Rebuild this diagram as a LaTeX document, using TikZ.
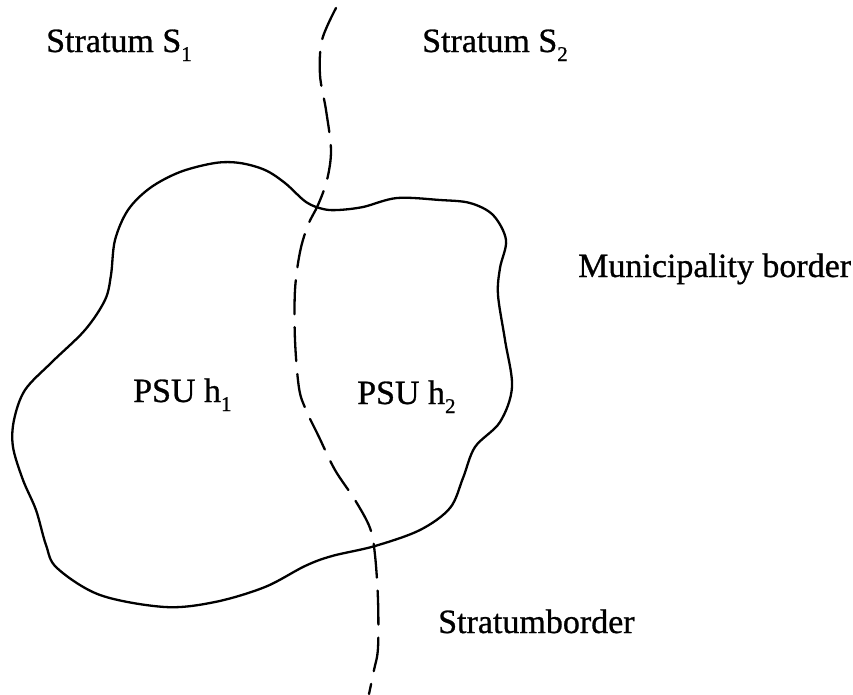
\documentclass[tikz,border=0pt]{standalone}
\usepackage{fontspec}
\setmainfont[FakeBold=0.8]{Liberation Serif}
\newcommand\mysub[1]{\raisebox{-9pt}{\fontsize{21}{21}\selectfont #1}}
\tikzset{
  lbl/.style={anchor=base west, inner sep=0pt, font=\fontsize{34}{34}\selectfont},
  border/.style={line width=2.3pt, line join=round, line cap=round},
  strat/.style={line width=2.3pt, line cap=round, dash pattern=on 34pt off 13pt}
}
\begin{document}
\begin{tikzpicture}[x=1pt,y=-1pt]
\useasboundingbox (0,0) rectangle (853,694);
% municipality border (closed outline)
\draw[border] plot[smooth cycle, tension=0.55] coordinates {
(323,209) (306,202) (285,183) (265,170) (240,163) (215,163) (180,172)
(150,188) (128,210) (115,240) (111,275) (105,300) (85,330) (52,362)
(25,390) (14,420) (13,447) (23,480) (36,510) (46,545) (57,568)
(100,595) (165,607) (215,602) (265,587) (305,566) (332,556) (375,546)
(420,530) (450,508) (463,478) (475,447) (500,422) (512,387) (505,340)
(498,295) (500,268) (506,240) (493,215) (470,203) (440,200) (397,198)
(363,207) (338,210)};
% stratum border (dashed)
\draw[strat] plot[smooth, tension=0.55] coordinates {
(336,8) (322,40) (320,75) (326,110) (331,150) (327,180) (318,205)
(308,225) (300,252) (295,290) (295,340) (299,388) (306,410) (319,437)
(335,470) (355,500) (370,528) (375,555) (378,600) (378,648) (374,670) (369,694)};
% labels
\node[lbl] (s1) at (46,52) {Stratum S\mysub{1}};
\node[lbl] (s2) at (422,52) {Stratum S\mysub{2}};
\node[lbl] (mun) at (578,277) {Municipality border};
\node[lbl] (h1) at (133,402) {PSU h\mysub{1}};
\node[lbl] (h2) at (357,404) {PSU h\mysub{2}};
\node[lbl] (sb) at (438,633) {Stratumborder};
\end{tikzpicture}
\end{document}
